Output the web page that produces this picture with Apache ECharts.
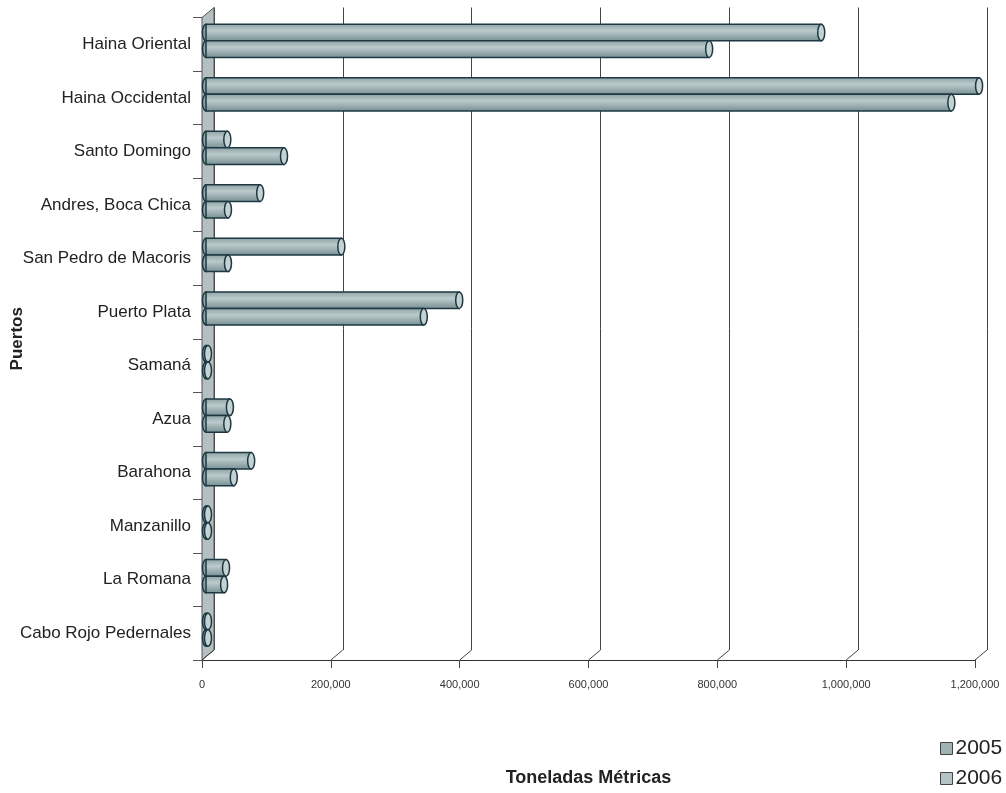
<!DOCTYPE html>
<html>
<head>
<meta charset="utf-8">
<script src="https://cdn.jsdelivr.net/npm/echarts@6/dist/echarts.min.js"></script>
<style>
  html, body { margin: 0; padding: 0; background: #fff; }
  #chart { width: 1006px; height: 793px; }
</style>
</head>
<body>
<div id="chart"></div>
<script>
const categories = [
  'Haina Oriental', 'Haina Occidental', 'Santo Domingo', 'Andres, Boca Chica',
  'San Pedro de Macoris', 'Puerto Plata', 'Samaná', 'Azua', 'Barahona',
  'Manzanillo', 'La Romana', 'Cabo Rojo Pedernales'
]
const values2005 = [952000, 1197000, 30000, 81000, 207000, 390000, 0, 34000, 67000, 0, 28000, 0]
const values2006 = [778000, 1154000, 118000, 31000, 31000, 335000, 0, 30000, 40000, 0, 25000, 0]
const xTicks = [0, 200000, 400000, 600000, 800000, 1000000, 1200000]

// depth of the fake 3d box
const DX = 12
const DY = -10

const barFill = new echarts.graphic.LinearGradient(0, 0, 0, 1, [
  { offset: 0, color: '#8aa0a3' },
  { offset: 0.4, color: '#bccacb' },
  { offset: 1, color: '#748d90' }
])

function cylinder (side) {
  return function (params, api) {
    const v = api.value(0)
    const i = api.value(1)
    const p0 = api.coord([0, i])
    const p1 = api.coord([v, i])
    const band = api.size([0, 1])[1]
    const h = band * 0.31
    const cy = p0[1] - band * 0.065 + side * h / 2
    const xs = p0[0] + 4
    const xe = Math.max(p1[0] + 6, xs + 1)
    const line = { stroke: '#1d3842', lineWidth: 1.5 }
    return {
      type: 'group',
      children: [
        {
          type: 'ellipse',
          shape: { cx: xs, cy: cy, rx: 3.5, ry: h / 2 },
          style: Object.assign({ fill: '#8fa4a7' }, line)
        },
        {
          type: 'rect',
          shape: { x: xs, y: cy - h / 2, width: xe - xs, height: h },
          style: Object.assign({ fill: barFill }, line)
        },
        {
          type: 'ellipse',
          shape: { cx: xe, cy: cy, rx: 3.5, ry: h / 2 },
          style: Object.assign({ fill: '#c5d2d3' }, line)
        }
      ]
    }
  }
}

const chart = echarts.init(document.getElementById('chart'))

chart.setOption({
  backgroundColor: '#ffffff',
  animation: false,
  textStyle: { fontFamily: 'Liberation Sans, Arial, sans-serif' },
  legend: {
    orient: 'vertical',
    left: 940,
    top: 738,
    padding: 0,
    itemWidth: 12,
    itemHeight: 12,
    itemGap: 9,
    icon: 'rect',
    data: ['2005', '2006'],
    itemStyle: { borderColor: '#444', borderWidth: 1 },
    textStyle: { fontSize: 21, color: '#222', padding: [0, 0, 0, -2] }
  },
  grid: [
    { left: 202, right: 31, top: 17.5, bottom: 133, containLabel: false, outerBoundsMode: 'none' },
    { left: 202 + DX, right: 31 - DX, top: 17.5 + DY, bottom: 133 - DY, containLabel: false, outerBoundsMode: 'none' }
  ],
  xAxis: [
    {
      gridIndex: 0,
      type: 'value',
      min: 0,
      max: 1200000,
      interval: 200000,
      name: 'Toneladas Métricas',
      nameLocation: 'middle',
      nameGap: 109,
      nameMoveOverlap: false,
      nameTextStyle: { fontSize: 18, fontWeight: 'bold', color: '#222' },
      axisLine: { show: true, lineStyle: { color: '#333', width: 1 } },
      axisTick: { show: true, inside: false, length: 8, lineStyle: { color: '#444' } },
      axisLabel: {
        fontSize: 11,
        color: '#333',
        margin: 19,
        formatter: v => v.toLocaleString('en-US')
      },
      splitLine: { show: false }
    },
    {
      gridIndex: 1,
      type: 'value',
      min: 0,
      max: 1200000,
      interval: 200000,
      axisLine: { show: false },
      axisTick: { show: false },
      axisLabel: { show: false },
      splitLine: { show: true, lineStyle: { color: '#444', width: 1 } }
    }
  ],
  yAxis: [
    {
      gridIndex: 0,
      type: 'category',
      inverse: true,
      data: categories,
      name: 'Puertos',
      nameLocation: 'middle',
      nameRotate: 90,
      nameGap: 185,
      nameMoveOverlap: false,
      nameTextStyle: { fontSize: 17, fontWeight: 'bold', color: '#222', verticalAlign: 'middle' },
      axisLine: { show: false },
      axisTick: { show: true, length: 9, lineStyle: { color: '#555' } },
      axisLabel: { fontSize: 17, color: '#222', margin: 11 }
    },
    {
      gridIndex: 1,
      type: 'category',
      inverse: true,
      data: categories,
      show: false
    }
  ],
  series: [
    {
      // side wall of the 3d box
      name: 'wall',
      type: 'custom',
      xAxisIndex: 0,
      yAxisIndex: 0,
      z: 1,
      silent: true,
      data: [[0, 0]],
      renderItem: function (params, api) {
        const cs = params.coordSys
        const x0 = api.coord([0, 0])[0]
        const top = cs.y
        const bottom = cs.y + cs.height
        return {
          type: 'polygon',
          shape: {
            points: [
              [x0, bottom], [x0, top], [x0 + DX, top + DY],
              [x0 + DX, bottom + DY]
            ]
          },
          style: { fill: '#b3bfc1', stroke: '#555', lineWidth: 1 }
        }
      }
    },
    {
      // diagonal joints from the front ticks to the back grid lines
      name: 'joints',
      type: 'custom',
      xAxisIndex: 0,
      yAxisIndex: 0,
      z: 1,
      silent: true,
      data: xTicks.map(v => [v, 0]),
      renderItem: function (params, api) {
        const cs = params.coordSys
        const x = api.coord([api.value(0), 0])[0]
        const bottom = cs.y + cs.height
        return {
          type: 'line',
          shape: { x1: x, y1: bottom, x2: x + DX, y2: bottom + DY },
          style: { stroke: '#444', lineWidth: 1 }
        }
      }
    },
    {
      name: '2005',
      type: 'custom',
      xAxisIndex: 0,
      yAxisIndex: 0,
      z: 5,
      itemStyle: { color: '#9fb2b4' },
      encode: { x: 0, y: 1 },
      data: values2005.map((v, i) => [v, i]),
      renderItem: cylinder(-1)
    },
    {
      name: '2006',
      type: 'custom',
      xAxisIndex: 0,
      yAxisIndex: 0,
      z: 5,
      itemStyle: { color: '#b4c3c5' },
      encode: { x: 0, y: 1 },
      data: values2006.map((v, i) => [v, i]),
      renderItem: cylinder(1)
    }
  ]
})
</script>
</body>
</html>
